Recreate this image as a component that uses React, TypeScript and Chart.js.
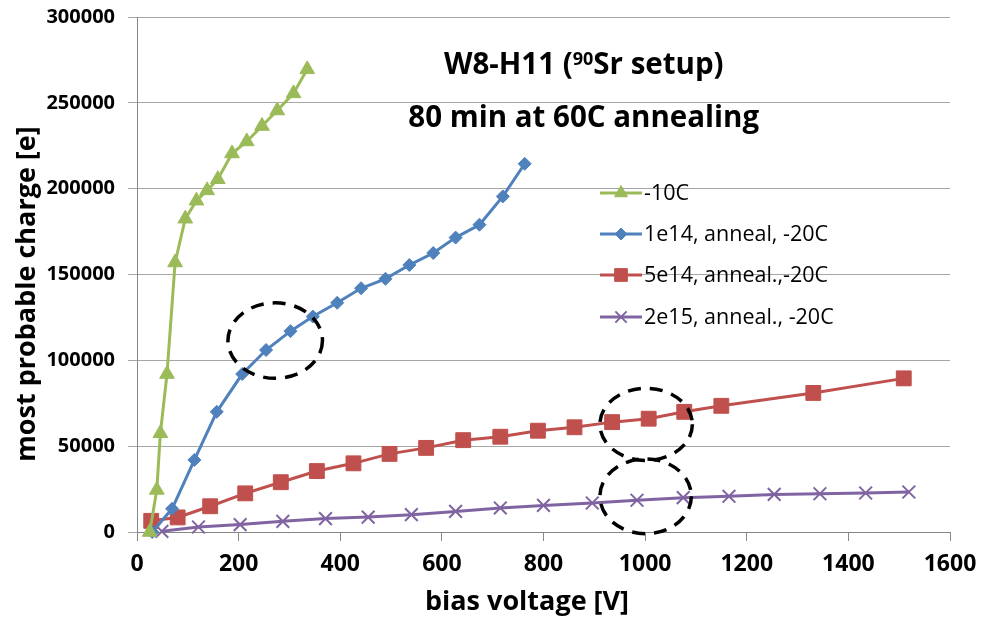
import React, { useEffect, useRef } from 'react';
import { Chart, registerables } from 'chart.js';
import { drawPoint } from 'chart.js/helpers';

Chart.register(...registerables);

// ---- data ----
const seriesNames = ['-10C', '1e14, anneal, -20C', '5e14, anneal.,-20C', '2e15, anneal., -20C'];

const greenV = [25, 39, 46, 59, 75, 95, 117, 138, 159, 187, 216, 246, 276, 308, 335];
const greenQ = [0, 24500, 57500, 92000, 157000, 182500, 193000, 199000, 205500, 220500, 227500, 236500, 245500, 255500, 269500];

const blueV = [30, 69, 113, 157, 207, 254, 302, 346, 394, 441, 489, 536, 583, 627, 674, 720, 763];
const blueQ = [0, 13500, 42000, 70000, 92000, 106000, 117000, 125500, 133500, 142000, 147500, 155500, 162500, 171500, 179000, 195500, 214500];

const redV = [28, 80, 144, 213, 283, 354, 426, 497, 569, 642, 715, 789, 861, 935, 1007, 1077, 1150, 1331, 1509];
const redQ = [6500, 8500, 15000, 22500, 29000, 35500, 40000, 45500, 49000, 53500, 55500, 59000, 61000, 64000, 66000, 70000, 73500, 81000, 89500];

const purpleV = [49, 121, 203, 287, 371, 455, 540, 627, 715, 800, 896, 984, 1075, 1165, 1254, 1344, 1434, 1519];
const purpleQ = [400, 2900, 4300, 6200, 7800, 8700, 10100, 12000, 14000, 15500, 16900, 18500, 20000, 20800, 21900, 22300, 22700, 23300];

const xTicks = [0, 200, 400, 600, 800, 1000, 1200, 1400, 1600];
const yTicks = [0, 50000, 100000, 150000, 200000, 250000, 300000];

// dashed ellipse annotations (data units)
const ellipseV = [272, 1002, 1001];
const ellipseQ = [111500, 62700, 20800];
const ellipseHalfV = [93, 91, 90];
const ellipseHalfQ = [22000, 21000, 21800];

const titleLine1a = 'W8-H11 (';
const titleSup = '90';
const titleLine1b = 'Sr setup)';
const titleLine2 = '80 min at 60C annealing';
const xTitle = 'bias voltage [V]';
const yTitle = 'most probable charge [e]';

const FONT = '"Open Sans", "Liberation Sans", sans-serif';

const zip = (xs: number[], ys: number[]) => xs.map((x, i) => ({ x, y: ys[i] }));

const overlayPlugin = {
  id: 'overlay',
  afterDatasetsDraw(chart: any) {
    const { ctx, chartArea, scales } = chart;
    const xs = scales.x;
    const ys = scales.y;
    ctx.save();

    // ellipses
    ctx.strokeStyle = '#000';
    ctx.lineWidth = 3.5;
    ctx.setLineDash([13, 9]);
    for (let i = 0; i < ellipseV.length; i++) {
      const cx = xs.getPixelForValue(ellipseV[i]);
      const cy = ys.getPixelForValue(ellipseQ[i]);
      const rx = Math.abs(xs.getPixelForValue(ellipseV[i] + ellipseHalfV[i]) - cx);
      const ry = Math.abs(ys.getPixelForValue(ellipseQ[i] + ellipseHalfQ[i]) - cy);
      ctx.beginPath();
      ctx.ellipse(cx, cy, rx, ry, 0, 0, Math.PI * 2);
      ctx.stroke();
    }
    ctx.setLineDash([]);

    // title
    const w = chartArea.right - chartArea.left;
    const tcx = chartArea.left + w * 0.5495;
    ctx.fillStyle = '#000';
    ctx.textBaseline = 'alphabetic';
    ctx.textAlign = 'left';
    const bigFont = `bold 29.5px ${FONT}`;
    const supFont = `bold 18px ${FONT}`;
    ctx.font = bigFont;
    const wa = ctx.measureText(titleLine1a).width;
    const wb = ctx.measureText(titleLine1b).width;
    ctx.font = supFont;
    const ws = ctx.measureText(titleSup).width;
    let tx = tcx - (wa + ws + wb) / 2;
    const base1 = 74;
    ctx.font = bigFont;
    ctx.fillText(titleLine1a, tx, base1);
    tx += wa;
    ctx.font = supFont;
    ctx.fillText(titleSup, tx, base1 - 9);
    tx += ws;
    ctx.font = bigFont;
    ctx.fillText(titleLine1b, tx, base1);
    ctx.textAlign = 'center';
    ctx.fillText(titleLine2, tcx, 127);

    // legend
    const lx0 = 600;
    const lx1 = 642;
    const rowY = [193, 234, 275, 317];
    const legendRadius = [7.5, 6, 9, 8];
    ctx.font = `21.5px ${FONT}`;
    ctx.textAlign = 'left';
    ctx.textBaseline = 'middle';
    chart.data.datasets.forEach((ds: any, i: number) => {
      const y = rowY[i];
      ctx.strokeStyle = ds.borderColor;
      ctx.lineWidth = 3;
      ctx.beginPath();
      ctx.moveTo(lx0, y);
      ctx.lineTo(lx1, y);
      ctx.stroke();
      ctx.fillStyle = ds.pointBackgroundColor;
      ctx.strokeStyle = ds.pointBorderColor;
      ctx.lineWidth = ds.pointBorderWidth;
      drawPoint(ctx, { pointStyle: ds.pointStyle, radius: legendRadius[i], rotation: 0, borderWidth: ds.pointBorderWidth } as any, (lx0 + lx1) / 2, y);
      ctx.fillStyle = '#000';
      ctx.fillText(ds.label, lx1 + 2, y + 1);
    });

    // axis titles
    ctx.font = `bold 27px ${FONT}`;
    ctx.textAlign = 'center';
    ctx.textBaseline = 'middle';
    ctx.fillText(xTitle, 527, 602);
    ctx.save();
    ctx.translate(27, 294);
    ctx.rotate(-Math.PI / 2);
    ctx.fillText(yTitle, 0, 0);
    ctx.restore();

    ctx.restore();
  },
};

export default function App() {
  const ref = useRef<HTMLCanvasElement>(null);
  useEffect(() => {
    const mk = (label: string, xs: number[], ys: number[], color: string, style: string, r: number, bw: number) => ({
      label,
      data: zip(xs, ys),
      borderColor: color,
      backgroundColor: color,
      pointBackgroundColor: color,
      pointBorderColor: color,
      pointBorderWidth: bw,
      pointStyle: style,
      pointRadius: r,
      pointHoverRadius: r,
      borderWidth: 3,
      showLine: true,
      tension: 0,
      clip: false as any,
    });
    const chart = new Chart(ref.current!, {
      type: 'scatter',
      data: {
        datasets: [
          mk(seriesNames[0], greenV, greenQ, '#9BBB59', 'triangle', 8.5, 1),
          mk(seriesNames[1], blueV, blueQ, '#4F81BD', 'rectRot', 6.5, 1),
          mk(seriesNames[2], redV, redQ, '#C0504D', 'rect', 10.5, 1),
          mk(seriesNames[3], purpleV, purpleQ, '#8064A2', 'crossRot', 9, 2),
        ] as any,
      },
      options: {
        animation: false,
        responsive: true,
        maintainAspectRatio: false,
        layout: { padding: { top: 17, right: 31, left: 0, bottom: 0 } },
        plugins: {
          legend: { display: false },
          tooltip: { enabled: false },
          title: { display: false },
        },
        scales: {
          x: {
            type: 'linear',
            min: 0,
            max: 1600,
            afterBuildTicks: (s: any) => { s.ticks = xTicks.map((v) => ({ value: v })); },
            afterFit: (s: any) => {
              s.height = 86;
              s.paddingLeft = 0; s.paddingRight = 0; s.paddingTop = 0; s.paddingBottom = 0;
            },
            ticks: {
              color: '#000',
              font: { family: FONT, size: 23, weight: 'bold' },
              padding: 10,
              maxRotation: 0,
              callback: (v: any) => String(v),
            },
            grid: { drawOnChartArea: false, drawTicks: true, tickLength: 9, color: '#868686' },
            border: { display: true, color: '#868686' },
          },
          y: {
            type: 'linear',
            min: 0,
            max: 300000,
            afterBuildTicks: (s: any) => { s.ticks = yTicks.map((v) => ({ value: v })); },
            afterFit: (s: any) => {
              s.width = 137;
              s.paddingLeft = 0; s.paddingRight = 0; s.paddingTop = 0; s.paddingBottom = 0;
            },
            ticks: {
              color: '#000',
              font: { family: FONT, size: 20, weight: 'bold' },
              padding: 13,
              callback: (v: any) => String(v),
            },
            grid: { drawTicks: true, tickLength: 9, color: '#A6A6A6' },
            border: { display: true, color: '#868686' },
          },
        },
      } as any,
      plugins: [overlayPlugin],
    });
    return () => chart.destroy();
  }, []);
  return (
    <div style={{ position: 'fixed', left: 0, top: 0, width: 981, height: 618, background: '#fff' }}>
      <canvas ref={ref} />
    </div>
  );
}
